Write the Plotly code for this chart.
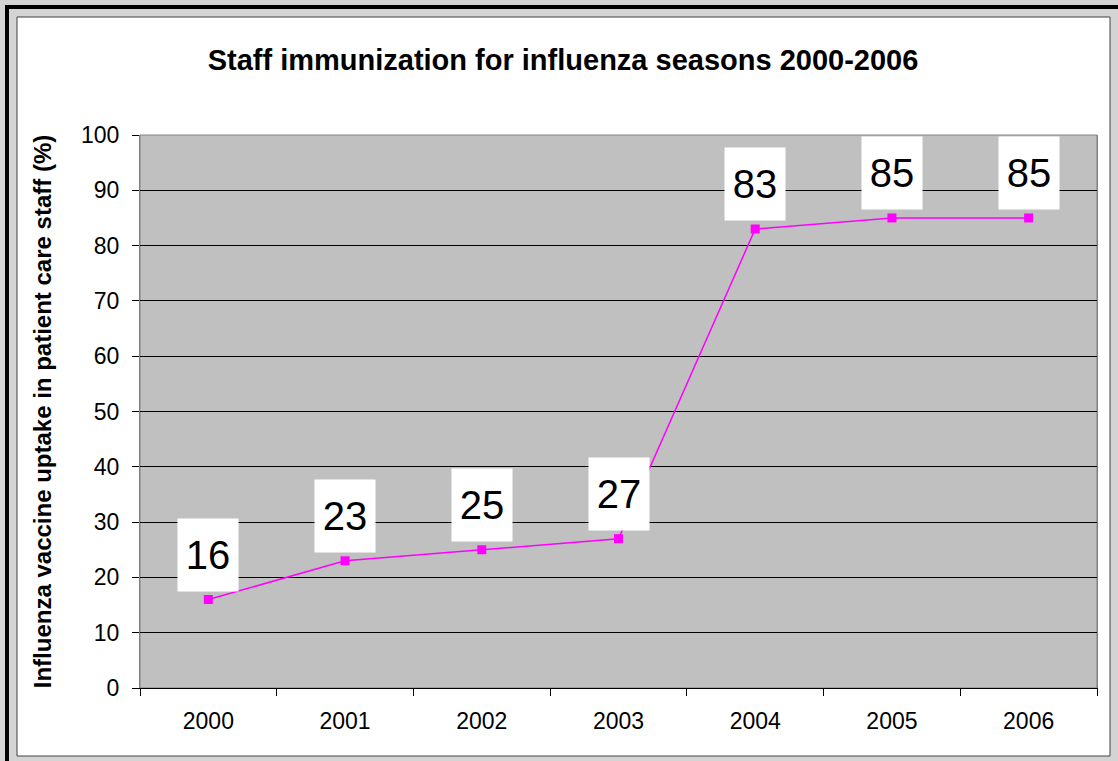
import plotly.graph_objects as go

years = ["2000", "2001", "2002", "2003", "2004", "2005", "2006"]
uptake = [16, 23, 25, 27, 83, 85, 85]
y_ticks = [0, 10, 20, 30, 40, 50, 60, 70, 80, 90, 100]

W, H = 1118, 761
L, R, T, B = 140, 1097, 135, 688
ml, mr, mt, mb = L, W - R, T, H - B


def px(x):
    return (x - L) / (R - L)


def py(y):
    return (B - y) / (B - T)


FONT = "Arial, Liberation Sans, sans-serif"

fig = go.Figure()
fig.add_trace(go.Scatter(
    x=years, y=uptake, mode="lines+markers",
    line=dict(color="#FF00FF", width=1.5),
    marker=dict(symbol="square", size=9, color="#FF00FF"),
    hoverinfo="x+y", showlegend=False,
))

for i, yv in enumerate(uptake):
    fig.add_annotation(
        x=i, y=yv, xref="x", yref="y", text=str(yv), showarrow=False,
        xanchor="center", yanchor="bottom", yshift=8,
        width=58, height=70, bgcolor="white",
        font=dict(family=FONT, size=40, color="black"),
    )

shapes = [
    # outer black frame
    dict(type="rect", xref="paper", yref="paper",
         x0=px(7), x1=px(1130), y0=py(7), y1=py(780),
         line=dict(color="black", width=4), fillcolor="#d4d4d4", layer="below"),
    # inner white panel
    dict(type="rect", xref="paper", yref="paper",
         x0=px(17), x1=px(1110), y0=py(17), y1=py(756),
         line=dict(color="#404040", width=1), fillcolor="white", layer="below"),
    # plot area background
    dict(type="rect", xref="paper", yref="paper",
         x0=0, x1=1, y0=0, y1=1,
         line=dict(color="#808080", width=1), fillcolor="#c0c0c0", layer="below"),
]

fig.update_layout(
    width=W, height=H,
    margin=dict(l=ml, r=mr, t=mt, b=mb, autoexpand=False),
    paper_bgcolor="#d4d4d4",
    plot_bgcolor="#c0c0c0",
    font=dict(family=FONT, color="black"),
    title=dict(
        text="<b>Staff immunization for influenza seasons 2000-2006</b>",
        x=563 / W, xref="container", xanchor="center",
        y=1 - 60 / H, yanchor="middle",
        font=dict(size=29, color="black"),
    ),
    shapes=shapes,
    xaxis=dict(
        type="category", range=[-0.5, 6.5],
        showgrid=False, zeroline=False,
        showline=True, linecolor="black", linewidth=1, mirror=False,
        ticks="outside", tickson="boundaries", ticklen=7, tickcolor="black",
        tickfont=dict(size=23, color="black"),
        ticklabelstandoff=12,
    ),
    yaxis=dict(
        range=[0, 100], tickvals=y_ticks,
        showgrid=True, gridcolor="black", gridwidth=1,
        zeroline=False,
        showline=True, linecolor="#808080", linewidth=1, mirror=True,
        ticks="outside", ticklen=7, tickcolor="black",
        tickfont=dict(size=23, color="black"),
        ticklabelstandoff=8,
        title=dict(
            text="<b>Influenza vaccine uptake in patient care staff (%)</b>",
            font=dict(size=24, color="black"), standoff=22,
        ),
    ),
)

fig.write_html("out.html", config={"displayModeBar": False},
               post_script="document.body.style.margin='0px';")
